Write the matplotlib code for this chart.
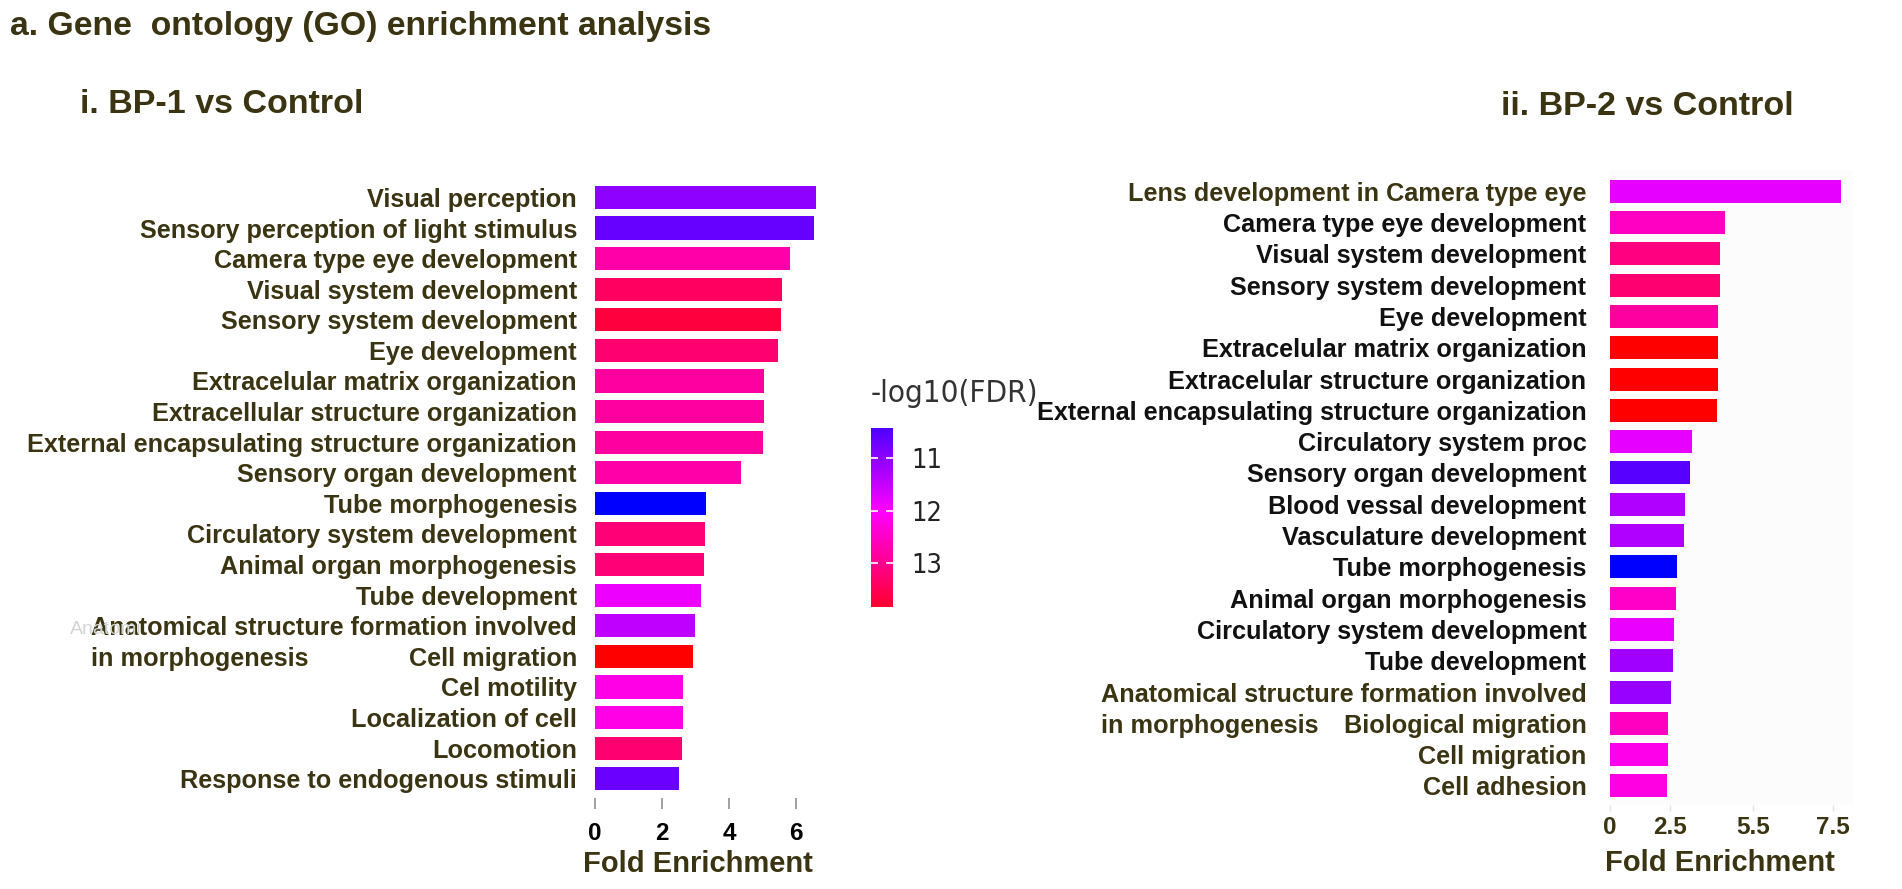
import numpy as np
import matplotlib
matplotlib.use("Agg")
import matplotlib.pyplot as plt
from matplotlib.colors import LinearSegmentedColormap, Normalize

plt.rcParams["font.family"] = ["Liberation Sans", "DejaVu Sans"]

W, H, DPI = 1902, 889, 100

# ---------------- data ----------------
left_terms = [
    "Visual perception",
    "Sensory perception of light stimulus",
    "Camera type eye development",
    "Visual system development",
    "Sensory system development",
    "Eye development",
    "Extracelular matrix organization",
    "Extracellular structure organization",
    "External encapsulating structure organization",
    "Sensory organ development",
    "Tube morphogenesis",
    "Circulatory system development",
    "Animal organ morphogenesis",
    "Tube development",
    "Anatomical structure formation involved",
    "Cell migration",
    "Cel motility",
    "Localization of cell",
    "Locomotion",
    "Response to endogenous stimuli",
]
left_fold = [6.61, 6.53, 5.81, 5.57, 5.55, 5.47, 5.05, 5.04, 5.01, 4.37,
             3.30, 3.28, 3.26, 3.16, 2.98, 2.93, 2.62, 2.62, 2.59, 2.50]
left_fdr = [11.00, 10.65, 12.77, 13.40, 13.69, 13.26, 12.84, 12.84, 12.84, 12.77,
            9.75, 13.20, 13.20, 11.85, 11.44, 14.25, 12.22, 12.22, 13.26, 10.69]

right_terms = [
    "Lens development in Camera type eye",
    "Camera type eye development",
    "Visual system development",
    "Sensory system development",
    "Eye development",
    "Extracelular matrix organization",
    "Extracelular structure organization",
    "External encapsulating structure organization",
    "Circulatory system proc",
    "Sensory organ development",
    "Blood vessal development",
    "Vasculature development",
    "Tube morphogenesis",
    "Animal organ morphogenesis",
    "Circulatory system development",
    "Tube development",
    "Anatomical structure formation involved",
    "Biological migration",
    "Cell migration",
    "Cell adhesion",
]
right_fold = [7.72, 4.50, 4.31, 4.29, 4.24, 4.22, 4.22, 4.19, 3.28, 3.22,
              3.05, 2.99, 2.77, 2.70, 2.64, 2.60, 2.52, 2.40, 2.40, 2.39]
right_fdr = [11.78, 12.54, 13.12, 13.26, 12.84, 14.25, 14.25, 14.25, 11.78, 10.54,
             11.30, 11.30, 9.75, 12.49, 11.82, 11.16, 11.09, 12.56, 12.18, 12.25]
right_olive = {0, 16, 17, 18, 19}

left_xticks = [0, 2, 4, 6]
right_xticks = [0, 2.5, 5.5, 7.5]
# axis of the right panel as printed (value -> relative pixel position)
right_axis_vals = [-10, 0, 2.5, 5.5, 7.5, 20]
right_axis_pos = [-240, 0, 60, 143, 222.7, 222.7 + 12.5 * 39.85]

cbar_ticks = [11, 12, 13]
cbar_range = (10.43, 13.83)

OLIVE = "#3b3412"
LABEL_FS = 18.2

cmap = LinearSegmentedColormap.from_list("fdr", ["#0000ff", "#ff00ff", "#ff0000"])
norm = Normalize(9.75, 14.25)


def rect(x0, y0, x1, y1):
    return [x0 / W, 1 - y1 / H, (x1 - x0) / W, (y1 - y0) / H]


def fx(x):
    return x / W


def fy(y):
    return 1 - y / H


fig = plt.figure(figsize=(W / DPI, H / DPI), dpi=DPI)
fig.patch.set_facecolor("white")

# ---------------- left panel ----------------
axL = fig.add_axes(rect(595, 176, 829.5, 798))
yL = np.arange(len(left_terms))
axL.barh(yL, left_fold, height=0.76, color=cmap(norm(np.array(left_fdr))), edgecolor="none")
axL.set_xlim(0, 7.0)
axL.set_ylim(19.63, -0.70)
for s in axL.spines.values():
    s.set_visible(False)
axL.set_yticks(yL)
axL.set_yticklabels(left_terms, fontsize=LABEL_FS, fontweight="bold", color=OLIVE)
axL.tick_params(axis="y", length=0, pad=13)
axL.set_xticks(left_xticks)
axL.set_xticklabels([str(t) for t in left_xticks], fontsize=17.5, fontweight="bold", color="black")
axL.tick_params(axis="x", length=8, width=1.3, color="#9a9a9a", pad=9)

# ---------------- right panel ----------------
def fwd(v):
    return np.interp(v, right_axis_vals, right_axis_pos)


def inv(p):
    return np.interp(p, right_axis_pos, right_axis_vals)


axR = fig.add_axes(rect(1610, 170, 1853, 805))
axR.set_facecolor("#fcfcfc")
axR.set_xscale("function", functions=(fwd, inv))
yR = np.arange(len(right_terms))
axR.barh(yR, right_fold, height=0.735, color=cmap(norm(np.array(right_fdr))), edgecolor="none")
axR.set_xlim(0, 8.01)
axR.set_ylim(19.61, -0.68)
for s in axR.spines.values():
    s.set_visible(False)
axR.set_yticks(yR)
axR.set_yticklabels(right_terms, fontsize=LABEL_FS, fontweight="bold")
for i, lab in enumerate(axR.get_yticklabels()):
    lab.set_color(OLIVE if i in right_olive else "#111111")
axR.tick_params(axis="y", length=0, pad=17)
axR.set_xticks(right_xticks)
axR.set_xticklabels(["0", "2.5", "5.5", "7.5"], fontsize=17.5, fontweight="bold", color=OLIVE)
axR.xaxis.set_minor_locator(matplotlib.ticker.NullLocator())
axR.tick_params(axis="x", length=4, width=1, color="#e4e4e4", pad=4)

# ---------------- colorbar ----------------
cax = fig.add_axes(rect(870.7, 428.3, 893.3, 606.7))
edges = np.linspace(cbar_range[0], cbar_range[1], 301)
vals = 0.5 * (edges[:-1] + edges[1:])
cax.pcolormesh([0, 1], edges, vals[:, None], cmap=cmap, norm=norm, shading="flat")
cax.set_ylim(cbar_range[1], cbar_range[0])
cax.set_xlim(0, 1)
cax.set_xticks([])
cax.set_yticks(cbar_ticks)
cax.set_yticklabels([str(t) for t in cbar_ticks], fontsize=19.5,
                    family="DejaVu Sans", fontstretch="condensed", color="#222222")
cax.tick_params(axis="y", direction="in", left=True, right=True, labelleft=False,
                labelright=True, length=5, width=1.2, color="white", pad=13)
for s in cax.spines.values():
    s.set_visible(False)
fig.text(fx(871), fy(393), "-log10(FDR)", fontsize=22.5, family="DejaVu Sans",
         fontstretch="condensed", color="#333333", ha="left", va="center")

# ---------------- titles ----------------
fig.text(fx(10), fy(35), "a. Gene  ontology (GO) enrichment analysis", fontsize=24.3,
         fontweight="bold", color=OLIVE, ha="left", va="baseline")
fig.text(fx(80), fy(113), "i. BP-1 vs Control", fontsize=24.5, fontweight="bold",
         color=OLIVE, ha="left", va="baseline")
fig.text(fx(1501), fy(115), "ii. BP-2 vs Control", fontsize=24.5, fontweight="bold",
         color=OLIVE, ha="left", va="baseline")
fig.text(fx(698), fy(864), "Fold Enrichment", fontsize=21, fontweight="bold",
         color=OLIVE, ha="center", va="center")
fig.text(fx(1720), fy(863), "Fold Enrichment", fontsize=21, fontweight="bold",
         color=OLIVE, ha="center", va="center")

# faint ghost text in the original panel
fig.text(fx(70), fy(629), "Anatomi", fontsize=14, color="#d4d4d4", ha="left", va="center",
         zorder=0)

# second line of the two-line label, left aligned with the first line
fig.canvas.draw()
renderer = fig.canvas.get_renderer()
for ax, row, col in ((axL, 15, OLIVE), (axR, 17, OLIVE)):
    lab = ax.get_yticklabels()[row - 1]
    bb = lab.get_window_extent(renderer)
    ax.annotate("in morphogenesis", xy=(bb.x0, row), xycoords=("figure pixels", "data"),
                fontsize=LABEL_FS, fontweight="bold", color=col, ha="left", va="center_baseline",
                annotation_clip=False)

fig.savefig("out.png", dpi=DPI, facecolor="white")
